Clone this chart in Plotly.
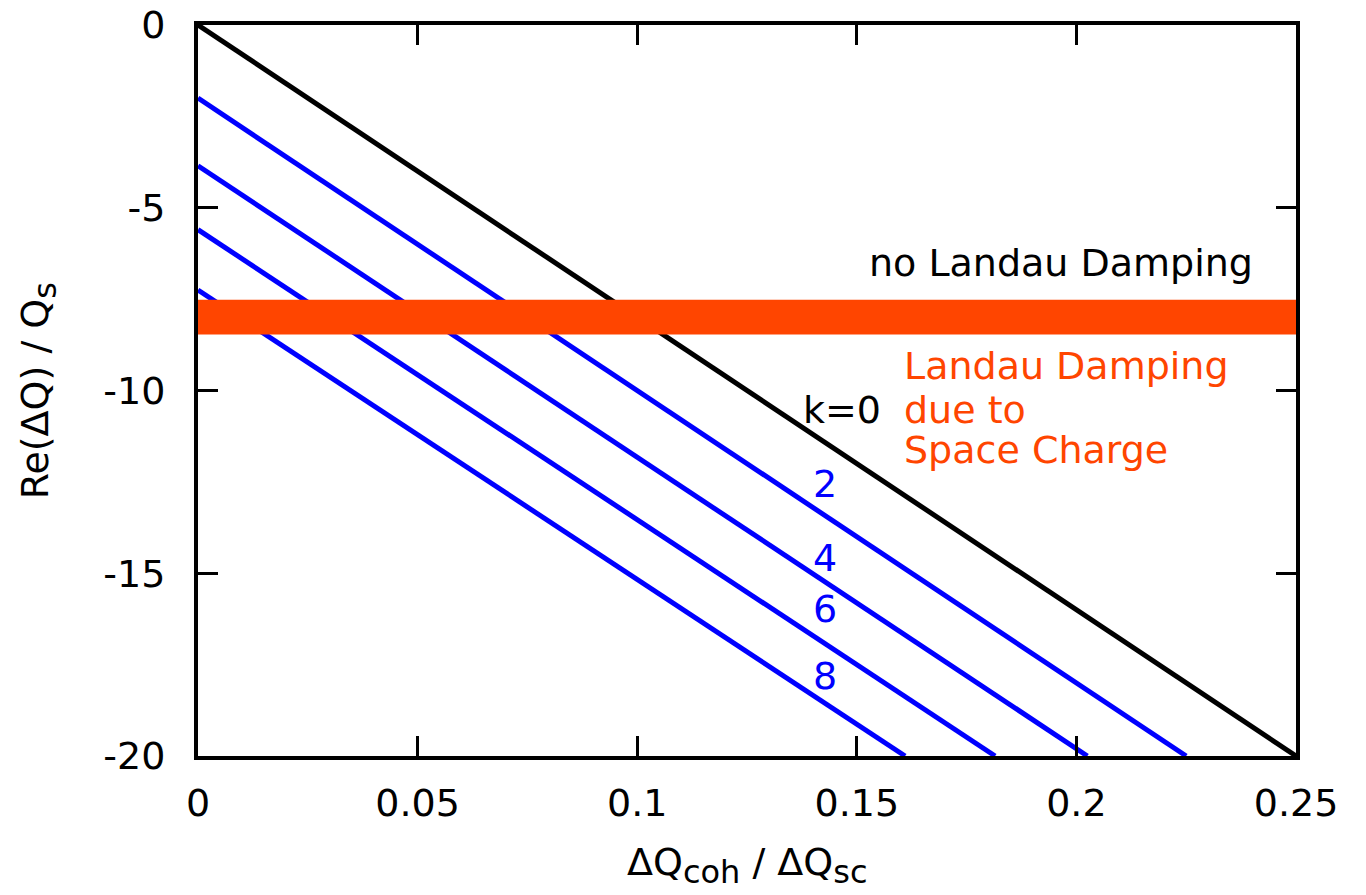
import plotly.graph_objects as go

# ---- data ----
k0_x = [0.0, 0.25]
k0_y = [0.0, -20.0]

mode_labels = ["2", "4", "6", "8"]
mode_start_y = [-2.0, -3.85, -5.6, -7.25]     # value at x = 0
mode_end_x = [0.225, 0.2025, 0.1815, 0.161]   # x where line reaches -20
mode_end_y = -20.0

band_low = -8.47
band_high = -7.52

x_ticks = [0, 0.05, 0.1, 0.15, 0.2, 0.25]
x_tick_text = ["0", "0.05", "0.1", "0.15", "0.2", "0.25"]
y_ticks = [0, -5, -10, -15, -20]
y_tick_text = ["0", "-5", "-10", "-15", "-20"]

mode_label_x = 0.1428
mode_label_y = [-12.55, -14.58, -15.97, -17.8]

ld_lines = ["Landau Damping", "due to", "Space Charge"]
ld_x = 0.1603
ld_y = [-9.32, -10.52, -11.62]

FONT = "DejaVu Sans, Liberation Sans, Arial, sans-serif"
FS = 38
BLUE = "#0000FF"
ORANGE = "#FF4500"

fig = go.Figure()

for i in range(len(mode_labels)):
    fig.add_trace(go.Scatter(
        x=[0.0, mode_end_x[i]], y=[mode_start_y[i], mode_end_y],
        mode="lines", line=dict(color=BLUE, width=5),
        showlegend=False, hoverinfo="skip"))

fig.add_trace(go.Scatter(
    x=k0_x, y=k0_y, mode="lines", line=dict(color="black", width=5),
    showlegend=False, hoverinfo="skip"))

# Orange band across the full x range
fig.add_trace(go.Scatter(
    x=[0, 0.25, 0.25, 0, 0], y=[band_low, band_low, band_high, band_high, band_low],
    mode="lines", fill="toself", fillcolor=ORANGE, line=dict(width=0, color=ORANGE),
    showlegend=False, hoverinfo="skip"))

annotations = []
annotations.append(dict(x=0.2407, y=-6.5, xref="x", yref="y", text="no Landau Damping",
                        showarrow=False, xanchor="right", yanchor="middle",
                        font=dict(family=FONT, size=FS, color="black")))
for t, yy in zip(ld_lines, ld_y):
    annotations.append(dict(x=ld_x, y=yy, xref="x", yref="y", text=t,
                            showarrow=False, xanchor="left", yanchor="middle",
                            font=dict(family=FONT, size=FS, color=ORANGE)))
annotations.append(dict(x=0.156, y=-10.52, xref="x", yref="y", text="k=0",
                        showarrow=False, xanchor="right", yanchor="middle",
                        font=dict(family=FONT, size=FS, color="black")))
for t, yy in zip(mode_labels, mode_label_y):
    annotations.append(dict(x=mode_label_x, y=yy, xref="x", yref="y", text=t,
                            showarrow=False, xanchor="center", yanchor="middle",
                            font=dict(family=FONT, size=FS, color=BLUE)))
# axis titles
SUB = '<sub><span style="font-size:32px">{}</span></sub>'
annotations.append(dict(x=0.5, y=-0.15, xref="paper", yref="paper",
                        text="ΔQ" + SUB.format("coh") + " / ΔQ" + SUB.format("sc"),
                        showarrow=False, xanchor="center", yanchor="middle",
                        font=dict(family=FONT, size=FS, color="black")))
annotations.append(dict(x=-0.145, y=0.5, xref="paper", yref="paper",
                        text="Re(ΔQ) / Q" + SUB.format("s"), textangle=-90,
                        showarrow=False, xanchor="center", yanchor="middle",
                        font=dict(family=FONT, size=FS, color="black")))

fig.update_layout(
    width=1366, height=895,
    margin=dict(l=198, r=70, t=25, b=139, autoexpand=False),
    paper_bgcolor="white", plot_bgcolor="white",
    font=dict(family=FONT, size=FS, color="black"),
    annotations=annotations,
    showlegend=False,
)
fig.update_xaxes(
    range=[0, 0.25], tickvals=x_ticks, ticktext=x_tick_text,
    ticks="inside", ticklen=20, tickwidth=3, tickcolor="black",
    showline=True, linewidth=4, linecolor="black", mirror="ticks",
    showgrid=False, zeroline=False, ticklabelstandoff=10, automargin=False,
    tickfont=dict(family=FONT, size=FS, color="black"))
fig.update_yaxes(
    range=[-20, 0], tickvals=y_ticks, ticktext=y_tick_text,
    ticks="inside", ticklen=20, tickwidth=3, tickcolor="black",
    showline=True, linewidth=4, linecolor="black", mirror="ticks",
    showgrid=False, zeroline=False, ticklabelstandoff=21, automargin=False,
    tickfont=dict(family=FONT, size=FS, color="black"))

fig.write_html("out.html")
